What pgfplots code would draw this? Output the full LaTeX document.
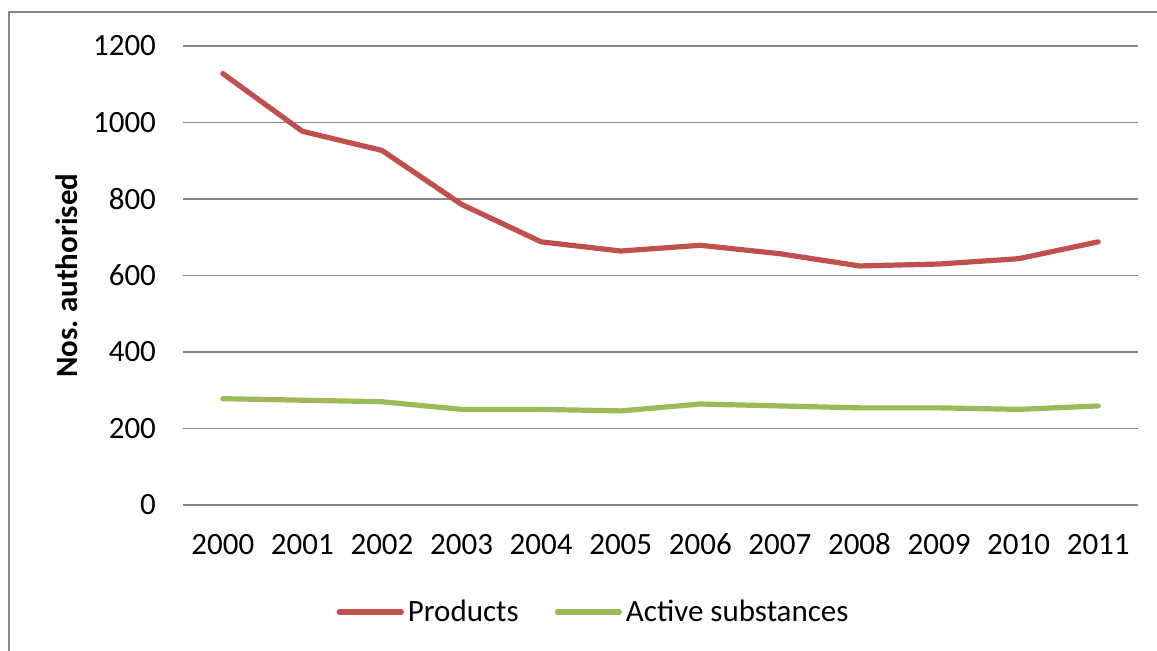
\documentclass[border=0pt]{standalone}
\usepackage{fontspec}
\setmainfont{Carlito}
\usepackage{pgfplots}
\pgfplotsset{compat=1.18}
\definecolor{prodred}{HTML}{C0504D}
\definecolor{actgreen}{HTML}{9BBB59}
\definecolor{gridgray}{HTML}{868686}
\begin{document}
\begin{tikzpicture}
\useasboundingbox (0,0) rectangle (578.5pt,325pt);
\draw[gridgray, line width=0.7pt] (4.5pt,-2pt) -- (4.5pt,319pt) -- (590pt,319pt);
\begin{axis}[
  at={(91.5pt,72.5pt)}, anchor=south west,
  scale only axis, width=477.5pt, height=229.5pt,
  xmin=-0.5, xmax=11.5, ymin=0, ymax=1200,
  xtick={0,...,11},
  xticklabels={2000,2001,2002,2003,2004,2005,2006,2007,2008,2009,2010,2011},
  ytick={0,200,...,1200},
  ymajorgrids, grid style={gridgray, line width=0.65pt},
  axis line style={draw=none}, tick style={draw=none},
  /pgf/number format/assume math mode=true,
  /pgf/number format/set thousands separator={},
  tick label style={font=\fontsize{15.5}{18}\selectfont},
  yticklabel style={xshift=-10pt},
  xticklabel style={yshift=-11pt, text height=10pt, text depth=0pt},
  ylabel={\textbf{Nos.\ authorised}},
  every axis y label/.style={at={(axis description cs:-0.1215,0.5)}, rotate=90, anchor=center, font=\fontsize{15.5}{18}\selectfont},
  legend style={at={(rel axis cs:0.431,-0.233)}, anchor=center, draw=none,
    font=\fontsize{15.5}{18}\selectfont, legend columns=2,
    /tikz/every even column/.append style={column sep=16pt}},
  legend image code/.code={\draw[#1] (0pt,0pt) -- (31pt,0pt);},
]
\addplot[prodred, line width=2.6pt, line cap=round, line join=round] coordinates {
(0,1128) (1,977) (2,927) (3,786) (4,688) (5,664) (6,679) (7,657) (8,625) (9,630) (10,644) (11,688)};
\addlegendentry{Products}
\addplot[actgreen, line width=2.6pt, line cap=round, line join=round] coordinates {
(0,278) (1,274) (2,270) (3,250) (4,250) (5,246) (6,264) (7,259) (8,254) (9,254) (10,250) (11,259)};
\addlegendentry{Active substances}
\end{axis}
\end{tikzpicture}
\end{document}
